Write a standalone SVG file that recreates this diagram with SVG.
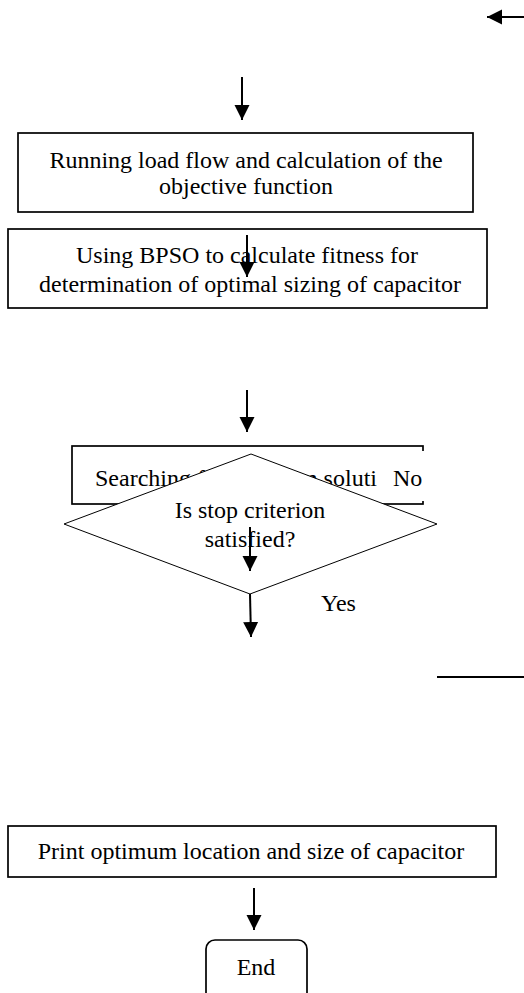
<svg xmlns="http://www.w3.org/2000/svg" width="524" height="993" viewBox="0 0 524 993">
<style>
.box{fill:#fff;stroke:#000;stroke-width:1.7}
.t{font-family:"Liberation Serif","Times New Roman",serif;font-size:24px;fill:#000}
.c{text-anchor:middle}
.ln{stroke:#000;stroke-width:2;fill:none}
</style>
<defs>
<marker id="ah" markerUnits="userSpaceOnUse" markerWidth="16" markerHeight="16" viewBox="0 0 16 16" refX="15" refY="8" orient="auto">
<path d="M0,0.5 L15,8 L0,15.5 Z" fill="#000"/>
</marker>
</defs>
<rect width="524" height="993" fill="#fff"/>
<g id="box1">
<rect class="box" x="18" y="133" width="455" height="79"/>
<text class="t c" x="246" y="168">Running load flow and calculation of the</text>
<text class="t c" x="246" y="194">objective function</text>
</g>
<g id="box2">
<rect class="box" x="8" y="229" width="479" height="79"/>
<text class="t c" x="247" y="263">Using BPSO to calculate fitness for</text>
<text class="t c" x="250" y="292">determination of optimal sizing of capacitor</text>
</g>
<g id="box3">
<rect class="box" x="72" y="446" width="351" height="58"/>
<text class="t" x="95" y="486">Searching for optimum soluti</text>
</g>
<g id="label-no">
<rect x="380" y="451" width="46" height="50" fill="#fff"/>
<text class="t" x="393" y="486">No</text>
</g>
<g id="decision">
<polygon points="251,454 437,524 250,594 64,524" fill="#fff" stroke="#000" stroke-width="1"/>
<text class="t c" x="250" y="518">Is stop criterion</text>
<text class="t c" x="250" y="547">satisfied?</text>
</g>
<g id="label-yes">
<text class="t" x="321" y="611">Yes</text>
</g>
<g id="box4">
<rect class="box" x="8" y="826" width="488" height="51"/>
<text class="t c" x="251" y="859">Print optimum location and size of capacitor</text>
</g>
<g id="end">
<rect class="box" x="206" y="940" width="101" height="70" rx="9" ry="9"/>
<text class="t c" x="256" y="975">End</text>
</g>
<g id="connectors">
<line class="ln" x1="524" y1="17" x2="487" y2="17" marker-end="url(#ah)"/>
<line class="ln" x1="242" y1="77" x2="242" y2="120" marker-end="url(#ah)"/>
<line class="ln" x1="247" y1="235" x2="247" y2="277" marker-end="url(#ah)"/>
<line class="ln" x1="247" y1="390" x2="247" y2="432" marker-end="url(#ah)"/>
<line class="ln" x1="250" y1="527" x2="250" y2="571" marker-end="url(#ah)"/>
<line class="ln" x1="250" y1="594" x2="251" y2="637" marker-end="url(#ah)"/>
<line class="ln" x1="437" y1="677" x2="524" y2="677"/>
<line class="ln" x1="254" y1="888" x2="254" y2="930" marker-end="url(#ah)"/>
</g>
</svg>
